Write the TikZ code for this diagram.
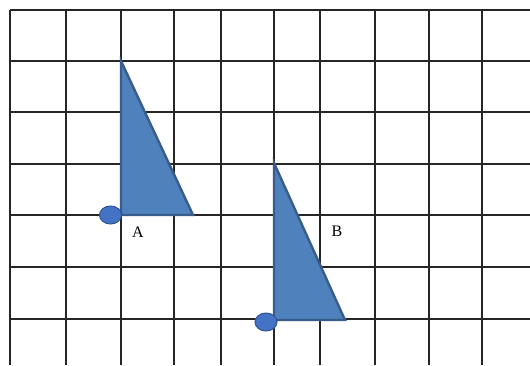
\documentclass[tikz,border=0pt]{standalone}
\usepackage{fontspec}
\setmainfont{Liberation Serif}
\usetikzlibrary{shapes.geometric}
\definecolor{tfill}{HTML}{4F81BD}
\definecolor{tedge}{HTML}{385D8A}
\definecolor{dfill}{HTML}{4472C4}
\definecolor{dedge}{HTML}{2F5597}
\begin{document}
\begin{tikzpicture}[x=1pt,y=-1pt,
  gridline/.style={draw=black!85, line width=1.3pt},
  tri/.style={fill=tfill, draw=tedge, line width=2.4pt, line join=miter},
  dot/.style={ellipse, fill=dfill, draw=dedge, line width=1pt, inner sep=0pt, minimum width=22pt, minimum height=18pt},
  lbl/.style={font=\fontsize{16}{18}\selectfont, inner sep=0pt}
]
\useasboundingbox[fill=white] (0,0) rectangle (530,365);
% vertical grid lines
\foreach \x in {10,66,121,174,221,274,320,375,429,482}
  \draw[gridline] (\x,10) -- (\x,365);
% horizontal grid lines
\foreach \y in {10,61,112,164,215,267,319}
  \draw[gridline] (10,\y) -- (530,\y);
% triangle A
\coordinate (a1) at (121,61);
\coordinate (a2) at (121,215);
\coordinate (a3) at (193,215);
\draw[tri] (a1) -- (a2) -- (a3) -- cycle;
\node[dot] (da) at (110.5,215) {};
\node[lbl] (la) at (138,232) {A};
% triangle B
\coordinate (b1) at (274,163);
\coordinate (b2) at (274,320);
\coordinate (b3) at (345,320);
\draw[tri] (b1) -- (b2) -- (b3) -- cycle;
\node[dot] (db) at (266,322) {};
\node[lbl] (lb) at (337,231) {B};
\end{tikzpicture}
\end{document}
